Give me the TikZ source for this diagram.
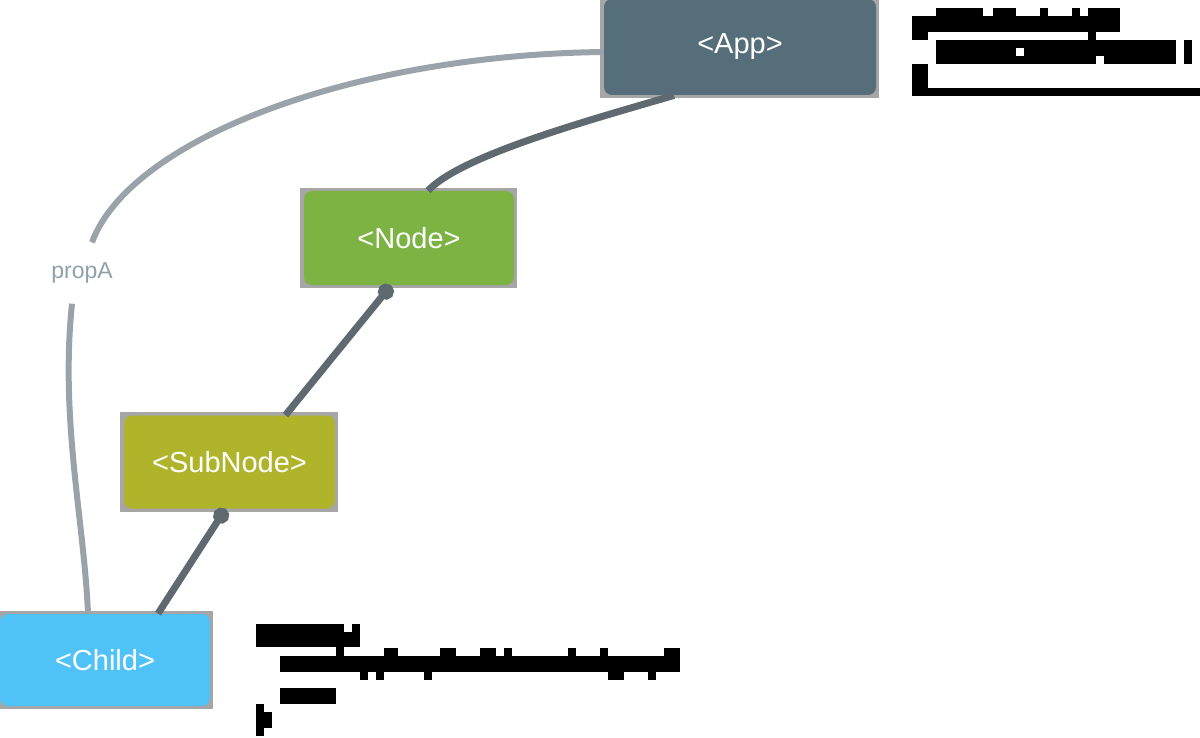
\documentclass[tikz,border=0pt]{standalone}
\usepackage{fontspec}
\setmainfont{Liberation Sans}
\usetikzlibrary{arrows.meta, backgrounds}

\definecolor{appgray}{HTML}{566D7A}
\definecolor{nodegreen}{HTML}{7CB342}
\definecolor{subolive}{HTML}{AFB42B}
\definecolor{childblue}{HTML}{4FC3F7}
\definecolor{linkgray}{HTML}{5F6970}
\definecolor{propgray}{HTML}{9AA3A9}
\definecolor{propblue}{HTML}{8DA1AD}
\definecolor{framegray}{HTML}{A6A6A6}

\begin{document}
\begin{tikzpicture}[x=0.5pt, y=-0.5pt,
    comp/.style={fill=#1, rounded corners=4pt, text=white, minimum width=105pt, minimum height=47pt, font=\fontsize{14.5}{17}\selectfont},
    link/.style={line width=3.5pt, draw=linkgray},
    proplink/.style={line width=3pt, draw=propgray},
    blot/.style={fill=black}]
        \useasboundingbox (0,0) rectangle (1200,738);
        \node[comp=appgray, minimum width=136pt, minimum height=48pt] (app) at (740,47) {<App>};
        \node[comp=nodegreen] (node) at (409,238) {<Node>};
        \node[comp=subolive, minimum width=105.5pt, minimum height=46.5pt] (subnode) at (229.5,462) {<SubNode>};
        \node[comp=childblue, minimum height=46pt] (child) at (105,660) {<Child>};
        \node[text=propblue, font=\fontsize{11.5}{13}\selectfont, inner sep=10pt] (propA) at (82,273) {propA};
        \begin{scope}[on background layer]
            \foreach \n in {app, node, subnode, child}
                \fill[framegray] ([shift={(-2pt,1.5pt)}]\n.north west) rectangle ([shift={(1.5pt,-1.5pt)}]\n.south east);
        \end{scope}
        \draw[link] ([xshift=-33pt]app.south) .. controls (590,120) and (462,155) .. ([xshift=9.5pt]node.north);
        \draw[link, {Circle[length=8pt]}-] ([xshift=-9pt]node.south) -- ([xshift=28pt]subnode.north);
        \draw[link, {Circle[length=8pt]}-] ([xshift=-2pt]subnode.south) -- ([xshift=26.5pt]child.north);
        \draw[proplink] ([yshift=-2.5pt]app.west) .. controls (350,55) and (130,140) .. ([xshift=5pt]propA.north);
        \draw[proplink] ([xshift=-5pt]propA.south) .. controls (60,420) and (84,520) .. ([xshift=-8.5pt]child.north);
        \foreach \xa/\ya/\xb/\yb in {912/16/1120/32, 936/8/983/16, 993/8/1016/16, 1040/8/1048/16, 1072/8/1080/16,
            1088/8/1120/16, 912/32/928/40, 1088/32/1096/40, 936/40/1016/64, 1016/40/1024/48, 1016/56/1024/64,
            1024/40/1096/64, 1096/40/1104/56, 1104/40/1176/64, 1184/40/1192/64, 912/64/928/88, 912/88/1200/96}
            \fill[blot] (\xa,\ya) rectangle (\xb,\yb);
        \foreach \xa/\ya/\xb/\yb in {256/624/344/632, 352/624/360/632, 256/632/360/647, 336/647/344/656,
            280/656/680/672, 384/648/398/656, 440/648/456/656, 480/648/496/656, 504/648/512/656, 568/648/576/656,
            600/648/608/656, 664/648/680/656, 360/672/368/680, 376/672/384/680, 424/672/432/680, 608/672/624/680,
            648/672/656/680, 280/688/336/704, 256/704/264/736, 264/712/272/728}
            \fill[blot] (\xa,\ya) rectangle (\xb,\yb);
\end{tikzpicture}
\end{document}
